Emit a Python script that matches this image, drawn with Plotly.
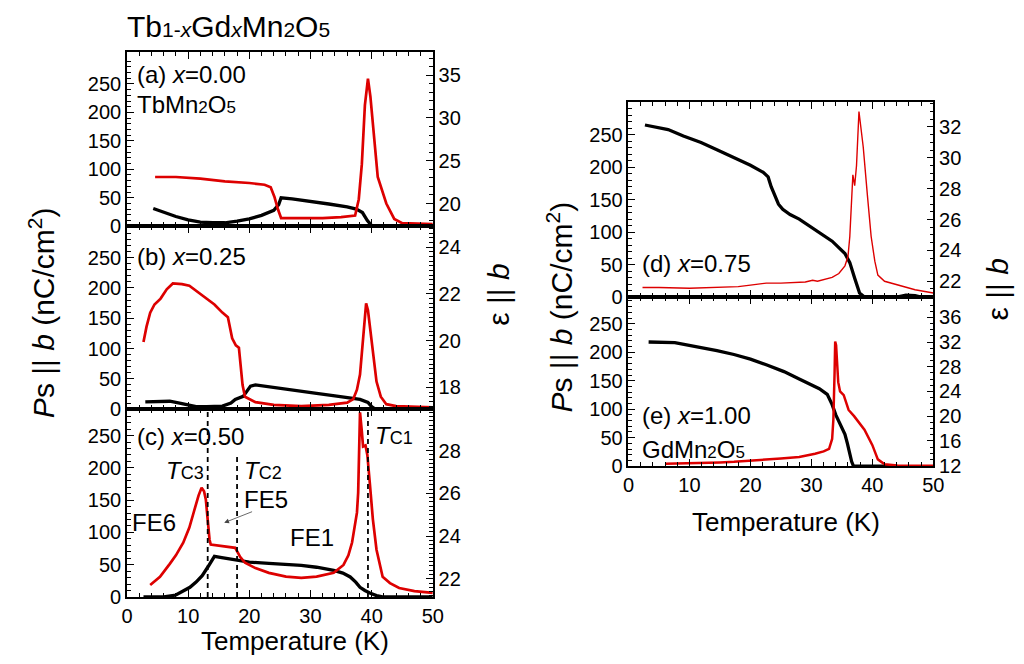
import plotly.graph_objects as go

# ---------------- data ----------------
# (a) x = 0.00
T_a_ps = [4.3, 6, 8, 10, 12, 14, 16, 18, 20, 22, 24, 24.8, 25.2, 27, 30, 33, 36, 37.5, 38.5, 39.3, 40, 41, 50]
P_a = [31, 24, 17, 11, 7, 6, 6, 9, 13, 19, 28, 38, 50, 48, 44, 39, 34, 30, 24, 10, 1, 0, 0]
T_a_eps = [4.6, 8, 12, 16, 20, 22.5, 23.5, 24.1, 24.7, 25.2, 28, 32, 35, 36.5, 37.3, 37.9, 38.4, 38.9, 39.4,
           39.8, 40.3, 41, 42.4, 43.7, 45, 50]
E_a = [23.1, 23.1, 22.9, 22.6, 22.4, 22.2, 21.9, 20.8, 19.3, 18.3, 18.3, 18.3, 18.4, 18.5, 18.6, 20.5, 24.6,
       31.5, 34.6, 32.5, 28.5, 23.1, 20.0, 18.2, 17.7, 17.6]

# (b) x = 0.25
T_b_ps = [3, 5, 7, 9, 11.3, 13, 15.6, 17, 17.7, 19, 19.6, 20.2, 21, 25, 28, 31, 34, 37, 38.1, 39.4, 40, 40.6, 42, 50]
P_b = [12, 12, 13, 9, 4, 4, 5, 10, 16, 21, 30, 38, 40, 34, 30, 26, 22, 17.5, 16, 11, 4, 0, 0, 0]
T_b_eps = [2.7, 3.2, 3.8, 4.5, 5.5, 6.5, 7.5, 9, 10.2, 11.5, 12.9, 14.3, 15.6, 16.5, 17.2, 17.8, 18.3, 18.6, 18.9,
           19.3, 21, 24, 28.5, 33, 36, 37, 37.6, 38.1, 38.6, 39.1, 39.4, 39.7, 40.2, 40.8, 41.5, 42.4, 44, 50]
E_b = [19.94, 20.6, 21.2, 21.55, 21.8, 22.2, 22.45, 22.42, 22.35, 22.1, 21.84, 21.55, 21.2, 21.0, 20.1, 19.8,
       19.7, 19.0, 18.1, 17.6, 17.37, 17.25, 17.2, 17.25, 17.35, 17.5, 17.9, 18.55, 20.0, 21.6, 21.3, 20.66,
       19.5, 18.25, 17.6, 17.28, 17.2, 17.15]

# (c) x = 0.50
T_c_ps = [2.7, 6, 8, 9.2, 10.3, 11.3, 12.3, 13.2, 14.3, 15.5, 17.7, 20, 23.2, 28.5, 31, 33.8, 35.3, 36.5, 37.4,
          38.1, 38.9, 39.7, 40.8, 41.8, 50]
P_c = [0, 0, 3, 9, 15, 23, 33, 46, 63, 61, 57, 54, 52, 49, 46, 41, 37, 31, 23, 15, 10, 6, 2, 0, 0]
T_c_eps = [3.8, 5.4, 7, 8, 9.2, 10.2, 11, 11.7, 12.2, 12.6, 12.9, 13.2, 13.5, 13.7, 15, 17, 17.7, 18.5, 19.3, 21,
           23.2, 26, 28.5, 31, 33.8, 35.4, 36.2, 36.8, 37.3, 37.6, 37.8, 38.0, 38.1, 38.4, 38.6, 39.0, 39.3, 39.7,
           40.2, 40.8, 41.8, 43, 44.5, 47, 50]
E_c = [21.71, 22.09, 22.7, 23.1, 23.69, 24.4, 25.2, 25.9, 26.27, 26.1, 25.7, 24.6, 23.83, 23.6, 23.55, 23.5,
       23.45, 23.03, 22.75, 22.5, 22.28, 22.1, 22.04, 22.1, 22.28, 22.65, 23.1, 23.7, 24.5, 25.1, 26.03, 28.5,
       29.8, 28.9, 28.2, 28.25, 27.8, 26.5, 24.8, 23.36, 22.09, 21.8, 21.57, 21.42, 21.34]

# (d) x = 0.75
T_d_ps = [2.7, 4.5, 6.5, 9, 11.9, 14.5, 17.3, 20, 22.1, 22.9, 23.4, 24, 24.6, 25.3, 26.5, 28, 30.6, 33.4, 35.5,
          36.3, 37.1, 37.9, 38.7, 40, 44, 45.5, 47, 48, 50]
P_d = [265, 262, 258, 248, 238, 227, 215, 203, 192, 185, 170, 155, 143, 135, 127, 120, 104, 86, 67, 53, 29, 6,
       0, 0, 0, 3, 2, 0, 0]
T_d_eps = [2.3, 5, 10, 15, 18, 20, 22, 22.6, 25, 28, 29, 30.2, 31, 33.4, 34.5, 35.5, 36, 36.3, 36.6, 36.8, 37.1,
           37.4, 37.8, 38.1, 38.5, 39.2, 39.8, 40.4, 40.9, 42, 44.1, 47, 50]
E_d = [21.6, 21.6, 21.55, 21.6, 21.65, 21.75, 21.82, 21.88, 21.88, 21.9, 21.95, 22.06, 22.0, 22.25, 22.5, 23.0,
       23.6, 24.9, 27.5, 28.9, 28.2, 29.5, 33.0, 32.0, 30.7, 27.5, 24.9, 23.3, 22.4, 22.0, 21.75, 21.45, 21.24]

# (e) x = 1.00
T_e_ps = [3.3, 7.6, 11.9, 14.5, 17.3, 20, 22.6, 25.5, 28, 30, 31.3, 32.6, 33, 33.4, 34, 34.5, 35.5, 35.9, 36.3,
          36.6, 36.9, 38, 44]
P_e = [218, 217, 208, 203, 196, 188, 178, 166, 153, 143, 136, 126, 118, 108, 90, 78, 56, 40, 20, 8, 0, 0, 0]
T_e_eps = [6, 10, 15, 17.3, 20, 22.6, 25, 28, 30.6, 32, 32.9, 33.4, 33.6, 33.8, 33.9, 34.05, 34.2, 34.4, 34.7,
           35.3, 36.1, 37, 38.7, 40, 40.9, 41.5, 42, 44.1, 47, 50]
E_e = [12.3, 12.35, 12.5, 12.6, 12.75, 12.95, 13.15, 13.4, 13.9, 14.3, 14.7, 16.3, 19.4, 27, 32.1, 31.5, 29.5,
       25.5, 24.0, 23.4, 21.0, 20.0, 17.8, 15.3, 13.0, 12.5, 12.2, 12.0, 11.95, 11.95]

# transition temperatures marked in (c)
T_C3, T_C2, T_C1 = 13.2, 18.0, 39.4
P_C2_TOP = 217

# ---------------- figure ----------------
W, H = 1024, 664
FONT = "Arial, Liberation Sans, sans-serif"
RED = "#dd0000"

def px(x):
    return x / W

def py(y):
    return 1 - y / H

def small(s, size):
    return '<span style="font-size:%dpx">%s</span>' % (size, s)

L_DOM = [px(123), px(434)]
R_DOM = [px(633), px(943)]
panels = {
    "a": dict(x=L_DOM, y=[py(230), py(53)], ps_max=306, eps=[17.35, 37.7], edt=5, emin=1, lab=False),
    "b": dict(x=L_DOM, y=[py(416), py(230)], ps_max=302, eps=[17.07, 24.9], edt=2, emin=0.2, lab=False),
    "c": dict(x=L_DOM, y=[py(607), py(416)], ps_max=291, eps=[21.15, 29.95], edt=2, emin=0.2, lab=True),
    "d": dict(x=R_DOM, y=[py(302), py(104)], ps_max=300, eps=[20.98, 33.6], edt=2, emin=0.5, lab=False),
    "e": dict(x=R_DOM, y=[py(474), py(302)], ps_max=297, eps=[11.9, 39.3], edt=4, emin=1, lab=True),
}
data = {
    "a": (T_a_ps, P_a, T_a_eps, E_a, 2.7),
    "b": (T_b_ps, P_b, T_b_eps, E_b, 2.7),
    "c": (T_c_ps, P_c, T_c_eps, E_c, 2.7),
    "d": (T_d_ps, P_d, T_d_eps, E_d, 1.4),
    "e": (T_e_ps, P_e, T_e_eps, E_e, 2.5),
}

fig = go.Figure()
axis_common = dict(showline=True, linecolor="black", linewidth=1.5, ticks="inside", ticklen=7,
                   tickwidth=1.3, tickcolor="black", showgrid=False, zeroline=False,
                   tickfont=dict(family=FONT, size=20, color="black"))
layout = {}
for i, key in enumerate(["a", "b", "c", "d", "e"]):
    n = i + 1
    m = i + 6
    p = panels[key]
    xs = "" if n == 1 else str(n)
    Tp, Pv, Te, Ev, rw = data[key]
    fig.add_trace(go.Scatter(x=Tp, y=Pv, xaxis="x" + xs, yaxis="y" + xs, mode="lines",
                             line=dict(color="black", width=3.3), hoverinfo="skip"))
    fig.add_trace(go.Scatter(x=Te, y=Ev, xaxis="x" + xs, yaxis="y" + str(m), mode="lines",
                             line=dict(color=RED, width=rw), hoverinfo="skip"))
    layout["xaxis" + xs] = dict(axis_common, domain=p["x"], anchor="y" + xs, range=[0, 50],
                                tickmode="linear", tick0=0, dtick=10, mirror="ticks",
                                showticklabels=p["lab"],
                                minor=dict(ticks="inside", ticklen=4, tickcolor="black", tickwidth=1,
                                           dtick=2, tick0=0))
    layout["yaxis" + xs] = dict(axis_common, domain=p["y"], anchor="x" + xs, range=[0, p["ps_max"]],
                                tickmode="array", tickvals=list(range(0, 251, 50)),
                                minor=dict(ticks="inside", ticklen=4, tickcolor="black", tickwidth=1,
                                           tickmode="array",
                                           tickvals=[v for v in range(10, 300, 10) if v % 50]))
    layout["yaxis" + str(m)] = dict(axis_common, overlaying="y" + xs, anchor="x" + xs, side="right",
                                    range=p["eps"], tickmode="linear", tick0=0, dtick=p["edt"],
                                    minor=dict(ticks="inside", ticklen=4, tickcolor="black",
                                               tickwidth=1, dtick=p["emin"], tick0=0))

ann = []

def text(xp, yp, s, size=24, xanchor="left", angle=0):
    ann.append(dict(x=px(xp), y=py(yp), xref="paper", yref="paper", text=s, showarrow=False,
                    xanchor=xanchor, yanchor="middle", textangle=angle,
                    font=dict(family=FONT, size=size, color="black")))

text(121, 27, "Tb" + small("1-<i>x</i>", 21) + "Gd" + small("<i>x</i>", 21) + "Mn" + small("2", 21)
     + "O" + small("5", 21), size=30)
text(131, 76, "(a) <i>x</i>=0.00")
text(131, 106, "TbMn" + small("2", 17) + "O" + small("5", 17))
text(131, 261, "(b) <i>x</i>=0.25")
text(131, 444, "(c) <i>x</i>=0.50")
text(161, 478, "<i>T</i>" + small("C3", 18))
text(240, 478, "<i>T</i>" + small("C2", 18))
text(373, 443, "<i>T</i>" + small("C1", 18))
text(240, 508, "FE5")
text(126, 531, "FE6")
text(287, 547, "FE1")
text(645, 268, "(d) <i>x</i>=0.75")
text(645, 422, "(e) <i>x</i>=1.00")
text(645, 457, "GdMn" + small("2", 17) + "O" + small("5", 17))
text(294, 652, "Temperature (K)", size=26, xanchor="center")
text(793, 531, "Temperature (K)", size=26, xanchor="center")
text(36, 318, "<i>P</i>s || <i>b</i> (nC/cm<sup>2</sup>)", size=30, xanchor="center", angle=-90)
text(563, 312, "<i>P</i>s || <i>b</i> (nC/cm<sup>2</sup>)", size=30, xanchor="center", angle=-90)
text(500, 300, "ε || <i>b</i>", size=30, xanchor="center", angle=-90)
text(1008, 294, "ε || <i>b</i>", size=30, xanchor="center", angle=-90)

# FE5 arrow
ann.append(dict(x=15.9, y=115, xref="x3", yref="y3", ax=20.7, ay=133, axref="x3", ayref="y3",
                text="", showarrow=True, arrowhead=2, arrowsize=1.2, arrowwidth=0.8,
                arrowcolor="#444444"))

shapes = []
for tx, top_ref, top in [(T_C3, "y3 domain", 1), (T_C2, "y3", P_C2_TOP), (T_C1, "y3 domain", 1)]:
    shapes.append(dict(type="line", xref="x3", x0=tx, x1=tx, yref=top_ref,
                       y0=0, y1=top, line=dict(color="black", width=1.8, dash="5px,4px")))

fig.update_layout(**layout)
fig.update_layout(width=W, height=H, margin=dict(l=0, r=0, t=0, b=0),
                  paper_bgcolor="white", plot_bgcolor="white", showlegend=False,
                  annotations=ann, shapes=shapes, font=dict(family=FONT, color="black"))
fig.write_html("out.html")
